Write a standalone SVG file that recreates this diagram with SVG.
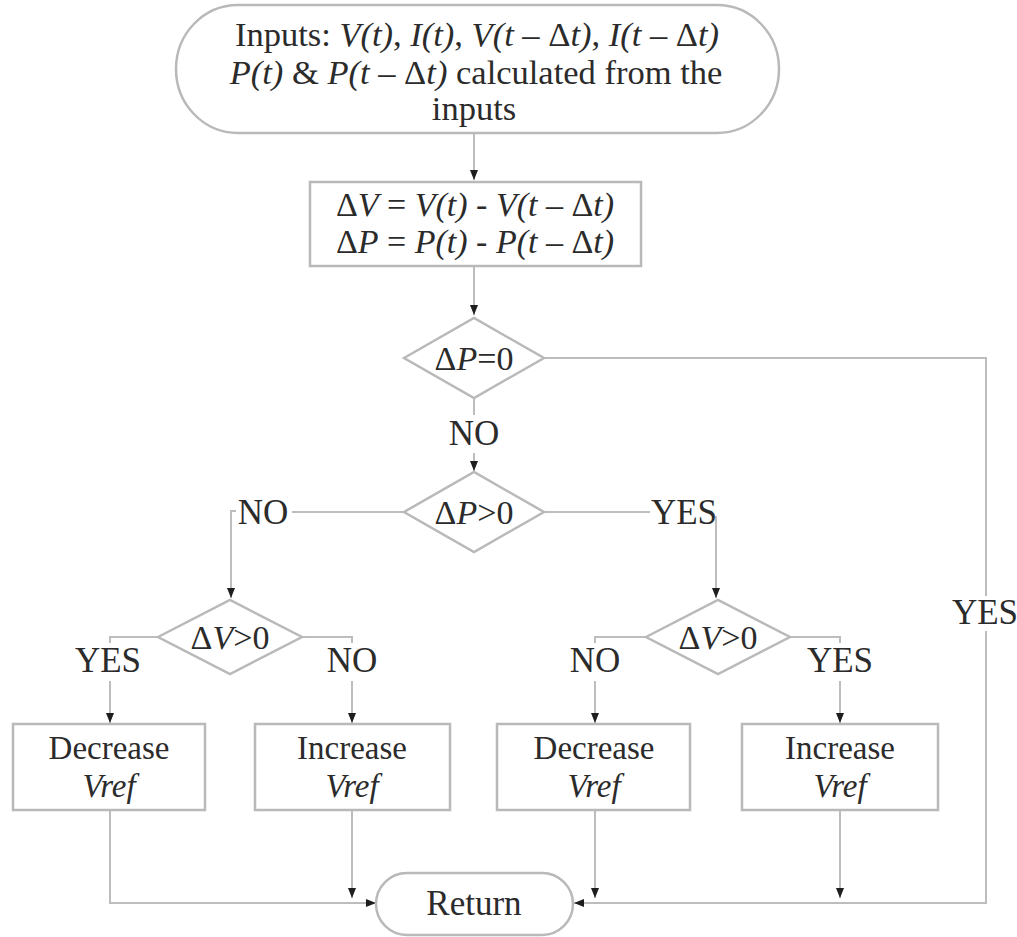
<svg xmlns="http://www.w3.org/2000/svg" width="1017" height="937" viewBox="0 0 1017 937">
<defs>
<style>
.t{font-family:"Liberation Serif","Times New Roman",serif;fill:#2b2b2b;text-anchor:middle}
.i{font-style:italic}
.shape{fill:#fff;stroke:#b9b9b9;stroke-width:2.5}
.c{fill:none;stroke:#bdbdbd;stroke-width:2}
.ca{fill:none;stroke:#bdbdbd;stroke-width:2;marker-end:url(#ah)}
</style>
<marker id="ah" viewBox="0 0 10 10" refX="10" refY="5" markerWidth="10" markerHeight="10" markerUnits="userSpaceOnUse" orient="auto">
<path d="M0,1 L10,5 L0,9 Z" fill="#1e1e1e"/>
</marker>
</defs>
<rect width="1017" height="937" fill="#fff"/>

<g id="connectors">
<path class="ca" d="M474,134 V180"/>
<path class="ca" d="M474,266 V315"/>
<path class="c" d="M474,398 V415"/>
<path class="ca" d="M474,453 V471"/>
<path class="c" d="M404,512 H292"/>
<path class="ca" d="M236,511 H231 V598"/>
<path class="c" d="M544,512 H650"/>
<path class="ca" d="M716,516 V598"/>
<path class="c" d="M544,358 H986 V596"/>
<path class="c" d="M158,637 H110 V643"/>
<path class="ca" d="M110,681 V723"/>
<path class="c" d="M302,637 H352 V643"/>
<path class="ca" d="M352,681 V723"/>
<path class="c" d="M646,637 H595 V643"/>
<path class="ca" d="M595,681 V723"/>
<path class="c" d="M790,637 H840 V643"/>
<path class="ca" d="M840,681 V723"/>
<path class="ca" d="M110,810 V903 H376"/>
<path class="ca" d="M352,810 V898"/>
<path class="ca" d="M595,810 V898"/>
<path class="ca" d="M840,810 V898"/>
<path class="ca" d="M986,631 V903 H574"/>
<text class="t" x="474" y="445" font-size="35">NO</text>
<text class="t" x="263" y="524" font-size="35">NO</text>
<text class="t" x="684" y="524" font-size="35">YES</text>
<text class="t" x="108" y="672" font-size="35">YES</text>
<text class="t" x="352" y="672" font-size="35">NO</text>
<text class="t" x="595" y="672" font-size="35">NO</text>
<text class="t" x="840" y="672" font-size="35">YES</text>
<text class="t" x="985" y="624" font-size="35">YES</text>
</g>

<g id="start">
<rect class="shape" x="176" y="5" width="603" height="128" rx="62" ry="64"/>
<text class="t" x="477" y="46" font-size="34.5">Inputs: <tspan class="i">V(t)</tspan>, <tspan class="i">I(t)</tspan>, <tspan class="i">V(t – </tspan>Δ<tspan class="i">t)</tspan>, <tspan class="i">I(t – </tspan>Δ<tspan class="i">t)</tspan></text>
<text class="t" x="476" y="84" font-size="34.5"><tspan class="i">P(t)</tspan> &amp; <tspan class="i">P(t – </tspan>Δ<tspan class="i">t)</tspan>  calculated from the</text>
<text class="t" x="474" y="120" font-size="34.5">inputs</text>
</g>

<g id="compute">
<rect class="shape" x="310" y="182" width="331" height="84"/>
<text class="t" x="475" y="216" font-size="34">Δ<tspan class="i">V</tspan> = <tspan class="i">V(t)</tspan> - <tspan class="i">V(t – </tspan>Δ<tspan class="i">t)</tspan></text>
<text class="t" x="475" y="253" font-size="34">Δ<tspan class="i">P</tspan> = <tspan class="i">P(t)</tspan> - <tspan class="i">P(t – </tspan>Δ<tspan class="i">t)</tspan></text>
</g>

<g id="dP0">
<polygon class="shape" points="404,358 474,318 544,358 474,398"/>
<text class="t" x="474" y="370" font-size="34">Δ<tspan class="i">P</tspan>=0</text>
</g>

<g id="dPgt0">
<polygon class="shape" points="404,512 474,472 544,512 474,552"/>
<text class="t" x="474" y="524" font-size="34">Δ<tspan class="i">P</tspan>&gt;0</text>
</g>

<g id="dVleft">
<polygon class="shape" points="158,637 230,600 302,637 230,674"/>
<text class="t" x="230" y="649" font-size="34">Δ<tspan class="i">V</tspan>&gt;0</text>
</g>

<g id="dVright">
<polygon class="shape" points="646,637 718,600 790,637 718,674"/>
<text class="t" x="718" y="649" font-size="34">Δ<tspan class="i">V</tspan>&gt;0</text>
</g>

<g id="dec1">
<rect class="shape" x="13" y="724" width="192" height="86"/>
<text class="t" x="109" y="759" font-size="33">Decrease</text>
<text class="t i" x="109" y="797" font-size="33">Vref</text>
</g>

<g id="inc1">
<rect class="shape" x="255" y="724" width="195" height="86"/>
<text class="t" x="352" y="759" font-size="33">Increase</text>
<text class="t i" x="352" y="797" font-size="33">Vref</text>
</g>

<g id="dec2">
<rect class="shape" x="497" y="724" width="193" height="86"/>
<text class="t" x="594" y="759" font-size="33">Decrease</text>
<text class="t i" x="594" y="797" font-size="33">Vref</text>
</g>

<g id="inc2">
<rect class="shape" x="742" y="724" width="196" height="86"/>
<text class="t" x="840" y="759" font-size="33">Increase</text>
<text class="t i" x="840" y="797" font-size="33">Vref</text>
</g>

<g id="return">
<rect class="shape" x="376" y="873" width="197" height="62" rx="31" ry="31"/>
<text class="t" x="474" y="915" font-size="35">Return</text>
</g>
</svg>
